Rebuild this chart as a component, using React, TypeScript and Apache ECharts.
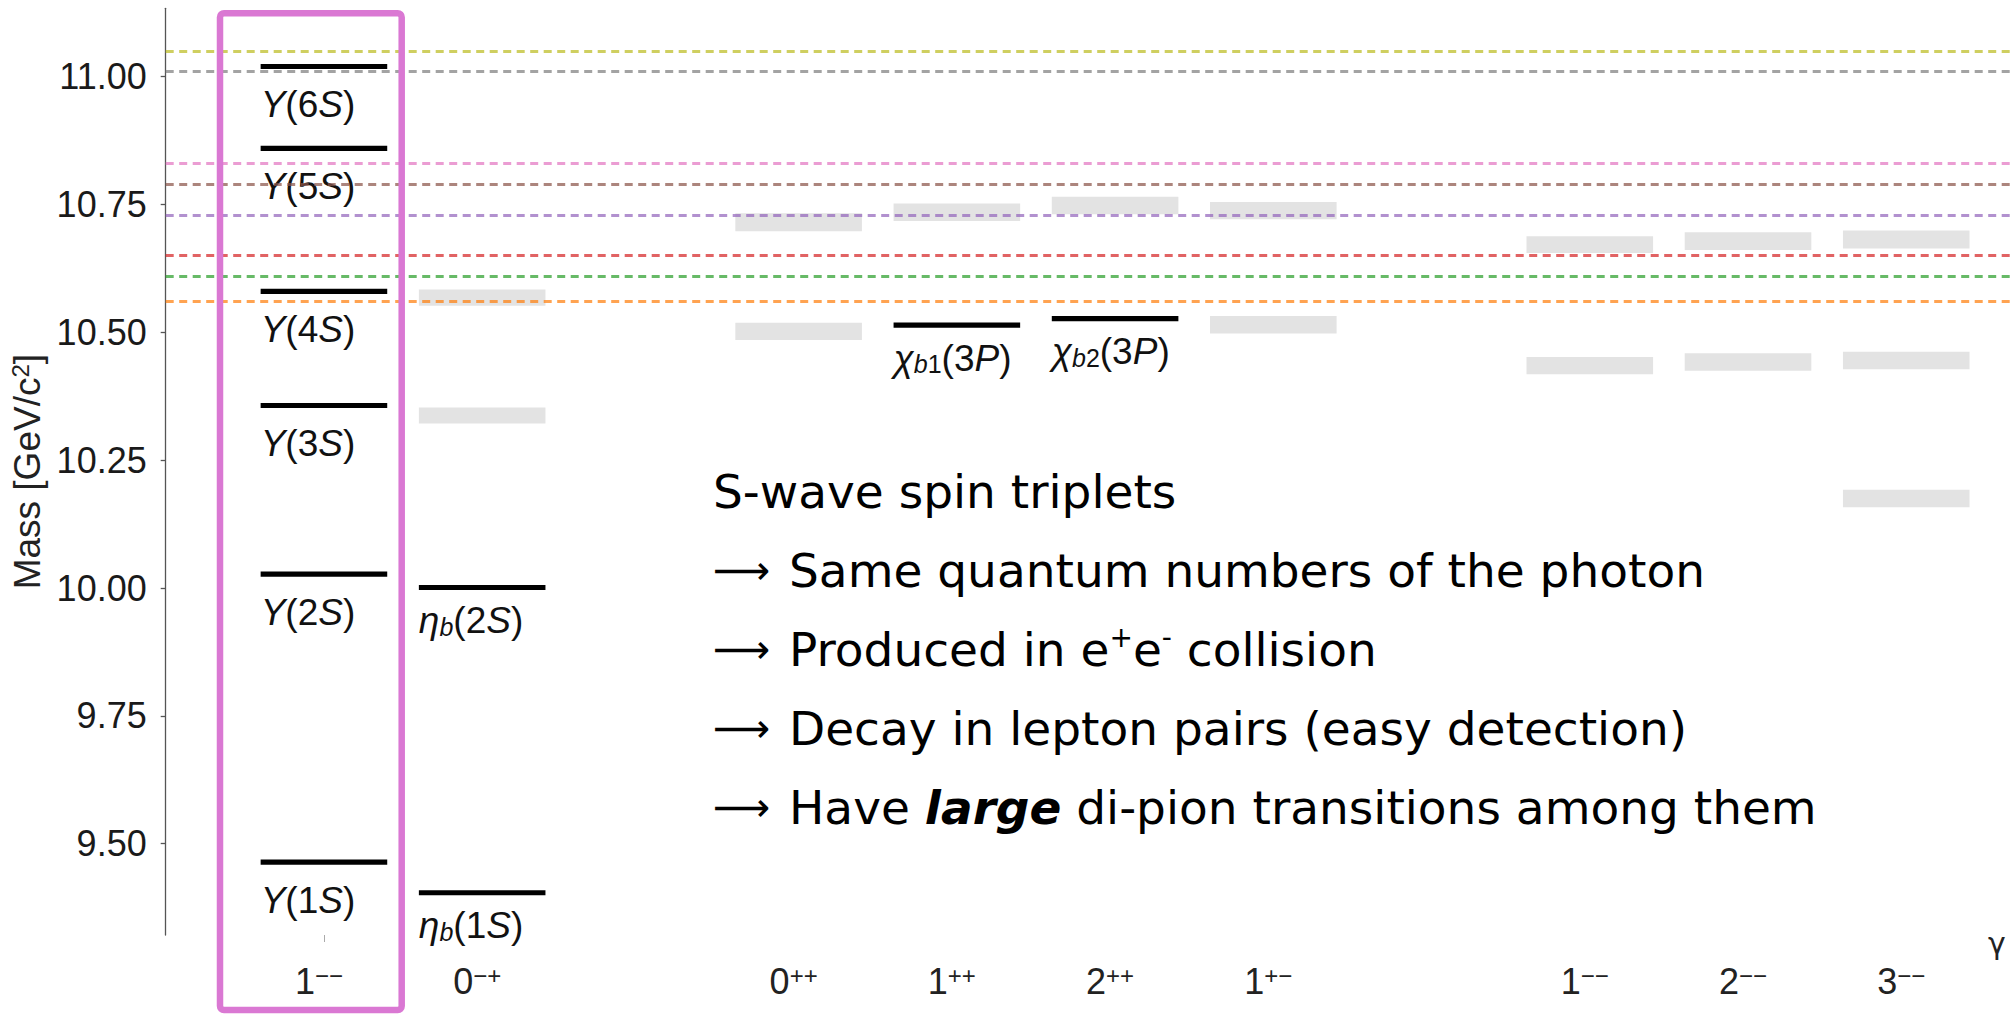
import React, { useEffect, useRef } from 'react';
import * as echarts from 'echarts';

// ---- Data ----
// J^PC columns (x = 1..11, slots 3 and 8 are empty spacers)
const jpcSpin = ['1', '0', '', '0', '1', '2', '1', '', '1', '2', '3'];
const jpcPC = ['−−', '−+', '', '++', '++', '++', '+−', '', '−−', '−−', '−−'];
const labelColumns = [1, 2, 4, 5, 6, 7, 9, 10, 11];

// Observed bottomonium states
const stateSymbol = ['Υ', 'Υ', 'Υ', 'Υ', 'Υ', 'Υ', 'η', 'η', 'χ', 'χ'];
const stateSub = ['', '', '', '', '', '', 'b', 'b', 'b1', 'b2'];
const stateLevel = ['1S', '2S', '3S', '4S', '5S', '6S', '1S', '2S', '3P', '3P'];
const stateColumn = [1, 1, 1, 1, 1, 1, 2, 2, 5, 6];
const stateMass = [9.464, 10.027, 10.357, 10.58, 10.86, 11.02, 9.404, 10.001, 10.514, 10.527];

// Predicted (unobserved) states: mass bands
const predColumn = [2, 2, 4, 4, 5, 6, 7, 7, 9, 9, 10, 10, 11, 11, 11];
const predLow = [10.552, 10.322, 10.698, 10.485, 10.718, 10.731, 10.721, 10.498, 10.655, 10.418, 10.661, 10.425, 10.664, 10.428, 10.158];
const predHigh = [10.584, 10.353, 10.733, 10.519, 10.752, 10.765, 10.755, 10.532, 10.688, 10.452, 10.696, 10.459, 10.699, 10.462, 10.192];

// Open-flavour thresholds
const thresholdMass = [10.561, 10.605, 10.651, 10.735, 10.785, 10.831, 11.009, 11.051];
const thresholdColor = ['#ff7f0e', '#2ca02c', '#d62728', '#9467bd', '#8c564b', '#e377c2', '#7f7f7f', '#bcbd22'];

// Y axis ticks
const yTicks = [9.5, 9.75, 10.0, 10.25, 10.5, 10.75, 11.0];

// Annotation text
const annotationLines = [
  '{n|S-wave spin triplets}',
  '{ar|⟶}{n|Same quantum numbers of the photon}',
  '{ar|⟶}{n|Produced in e}{sup|+}{n|e}{sup|-}{n| collision}',
  '{ar|⟶}{n|Decay in lepton pairs (easy detection)}',
  '{ar|⟶}{n|Have }{bi|large}{n| di-pion transitions among them}',
];

const FONT = '"Liberation Sans", Arial, Helvetica, sans-serif';
const ANN_FONT = '"DejaVu Sans", sans-serif';
const HALF = 0.4;

function stateRich(i: number): string {
  let s = `{i|${stateSymbol[i]}}`;
  const sub = stateSub[i];
  if (sub) {
    s += `{subi|${sub[0]}}`;
    if (sub.length > 1) s += `{sub|${sub.slice(1)}}`;
  }
  const lv = stateLevel[i];
  s += `{n|(${lv[0]}}{i|${lv[1]}}{n|)}`;
  return s;
}

const labelRich = {
  n: { fontFamily: FONT, fontSize: 37, lineHeight: 37, fill: '#111' },
  i: { fontFamily: FONT, fontSize: 37, lineHeight: 37, fontStyle: 'italic', fill: '#111' },
  subi: { fontFamily: FONT, fontSize: 25, lineHeight: 25, fontStyle: 'italic', verticalAlign: 'bottom', fill: '#111' },
  sub: { fontFamily: FONT, fontSize: 25, lineHeight: 25, verticalAlign: 'bottom', fill: '#111' },
};

function buildOption() {
  return {
    animation: false,
    grid: { left: 165.7, top: 8.3, bottom: 80, right: 0, containLabel: false },
    xAxis: {
      type: 'value',
      min: 0,
      max: 11.662,
      axisLine: { show: false },
      splitLine: { show: false },
      axisTick: { show: true, customValues: [1], length: 7, lineStyle: { color: '#aaa', width: 1 } },
      axisLabel: {
        customValues: labelColumns,
        margin: 28,
        padding: [0, 10, 0, 0],
        formatter: (v: number) => {
          const k = Math.round(v) - 1;
          return `{n|${jpcSpin[k]}}{s|${jpcPC[k]}}`;
        },
        rich: {
          n: { fontFamily: FONT, fontSize: 36, lineHeight: 36, color: '#222' },
          s: { fontFamily: FONT, fontSize: 24, lineHeight: 24, color: '#222', verticalAlign: 'top' },
        },
      },
    },
    yAxis: {
      type: 'value',
      min: 9.3214,
      max: 11.1338,
      name: '{n|Mass [GeV/c}{s|2}{n|]}',
      nameLocation: 'middle',
      nameGap: 116,
      nameTextStyle: {
        rich: {
          n: { fontFamily: FONT, fontSize: 37, lineHeight: 37, color: '#222' },
          s: { fontFamily: FONT, fontSize: 24, lineHeight: 24, color: '#222', verticalAlign: 'top' },
        },
      },
      axisLine: { show: true, lineStyle: { color: '#555', width: 1.3 } },
      axisTick: { show: true, customValues: yTicks, length: 5, lineStyle: { color: '#555', width: 1.3 } },
      axisLabel: {
        customValues: yTicks,
        margin: 19,
        fontFamily: FONT,
        fontSize: 36,
        color: '#1a1a1a',
        formatter: (v: number) => v.toFixed(2),
      },
      splitLine: { show: false },
    },
    series: [
      {
        type: 'custom',
        name: 'predicted',
        z: 2,
        data: predColumn.map((c, i) => [c, predLow[i], predHigh[i]]),
        encode: { x: 0, y: [1, 2] },
        renderItem: (params: any, api: any) => {
          const c = api.value(0);
          const a = api.coord([c - HALF, api.value(2)]);
          const b = api.coord([c + HALF, api.value(1)]);
          return {
            type: 'rect',
            shape: { x: a[0], y: a[1], width: b[0] - a[0], height: b[1] - a[1] },
            style: { fill: '#e3e3e3' },
          };
        },
      },
      {
        type: 'custom',
        name: 'observed',
        z: 3,
        data: stateColumn.map((c, i) => [c, stateMass[i]]),
        encode: { x: 0, y: 1 },
        renderItem: (params: any, api: any) => {
          const i = params.dataIndex;
          const c = api.value(0);
          const m = api.value(1);
          const a = api.coord([c - HALF, m]);
          const b = api.coord([c + HALF, m]);
          const off = stateSymbol[i] === 'Υ' ? 38 : 33;
          return {
            type: 'group',
            children: [
              {
                type: 'rect',
                shape: { x: a[0], y: a[1] - 2.6, width: b[0] - a[0], height: 5.2 },
                style: { fill: '#000' },
              },
              {
                type: 'text',
                style: {
                  text: stateRich(i),
                  rich: labelRich,
                  x: a[0],
                  y: a[1] + off,
                  align: 'left',
                  verticalAlign: 'middle',
                  fill: '#111',
                },
              },
            ],
          };
        },
      },
      {
        type: 'line',
        name: 'thresholds',
        z: 5,
        data: [],
        markLine: {
          silent: true,
          symbol: ['none', 'none'],
          label: { show: false },
          data: thresholdMass.map((m, i) => ({
            yAxis: m,
            lineStyle: { color: thresholdColor[i], type: [8, 5.5], width: 3, opacity: 0.72 },
          })),
        },
      },
    ],
    graphic: [
      {
        type: 'rect',
        z: 100,
        shape: { x: 220, y: 13.2, width: 181.7, height: 996.8, r: 4 },
        style: { fill: 'none', stroke: '#da78d3', lineWidth: 6.5 },
      },
      {
        type: 'text',
        z: 100,
        style: { text: 'γ', x: 1997, y: 943, align: 'center', verticalAlign: 'middle', font: `30px "DejaVu Sans", sans-serif`, fill: '#222' },
      },
      ...annotationLines.map((t, k) => ({
        type: 'text',
        z: 100,
        style: {
          text: t,
          x: 713,
          y: 491 + k * 79,
          align: 'left',
          verticalAlign: 'middle',
          rich: {
            n: { fontFamily: ANN_FONT, fontSize: 47, lineHeight: 52, fill: '#000' },
            bi: { fontFamily: ANN_FONT, fontSize: 47, lineHeight: 52, fontWeight: 'bold', fontStyle: 'italic', fill: '#000' },
            ar: { fontFamily: '"DejaVu Sans", sans-serif', fontSize: 40, lineHeight: 52, width: 76, fill: '#000' },
            sup: { fontFamily: ANN_FONT, fontSize: 28, lineHeight: 28, verticalAlign: 'top', fill: '#000' },
          },
        },
      })),
    ],
  };
}

export default function App() {
  const ref = useRef<HTMLDivElement>(null);
  useEffect(() => {
    document.body.style.margin = '0';
    const chart = echarts.init(ref.current!, null, { renderer: 'svg' });
    chart.setOption(buildOption() as any);
    return () => chart.dispose();
  }, []);
  return <div ref={ref} style={{ width: 2011, height: 1015 }} />;
}
